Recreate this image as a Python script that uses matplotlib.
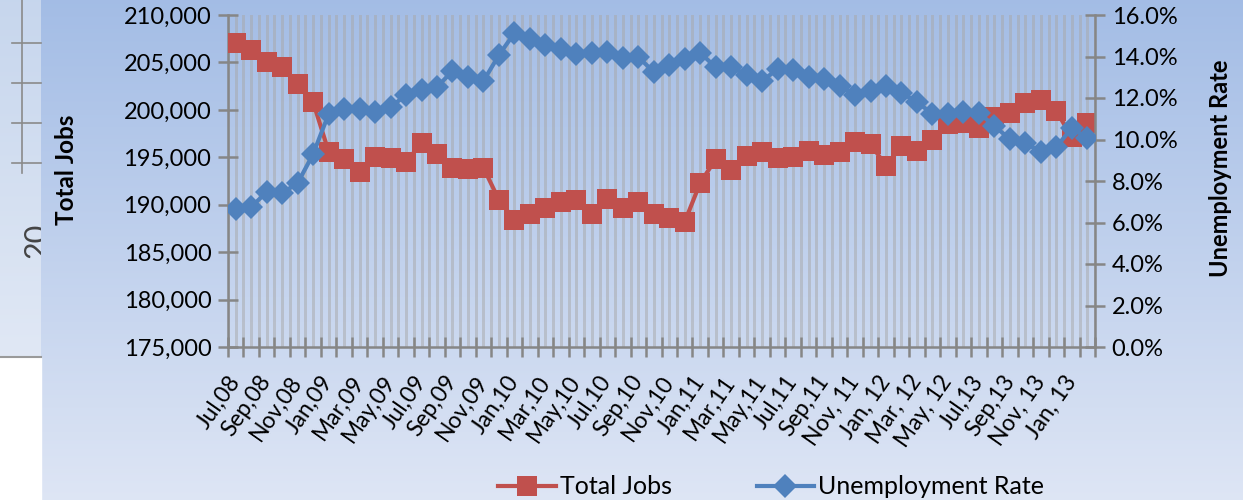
import numpy as np
import matplotlib
matplotlib.use("Agg")
import matplotlib.pyplot as plt
from matplotlib.ticker import FuncFormatter, PercentFormatter
from matplotlib.patches import Rectangle

plt.rcParams['font.family'] = ['Lato', 'DejaVu Sans']

# Month labels (one shown every second month, as in the source sheet)
tick_labels = ["Jul,08", "Sep,08", "Nov,08", "Jan,09", "Mar,09", "May,09", "Jul,09",
               "Sep,09", "Nov,09", "Jan,10", "Mar,10", "May,10", "Jul,10", "Sep,10",
               "Nov,10", "Jan,11", "Mar,11", "May,11", "Jul,11", "Sep,11", "Nov, 11",
               "Jan, 12", "Mar, 12", "May, 12", "Jul,13", "Sep,13", "Nov, 13", "Jan, 13"]

# Total jobs, monthly
total_jobs = [207100, 206300, 205000, 204500, 202700, 200800, 195600, 194800, 193400, 195000,
              194900, 194500, 196500, 195300, 193900, 193800, 193900, 190500, 188400, 189000,
              189650, 190300, 190500, 189000, 190600, 189650, 190300, 189000, 188600, 188200,
              192300, 194800, 193650, 195100, 195600, 194900, 195000, 195650, 195250, 195550,
              196600, 196400, 194100, 196200, 195650, 196800, 198500, 198600, 198100, 199250,
              199700, 200700, 201000, 199900, 197100, 198600]

# Unemployment rate (%), monthly
unemployment = [6.65, 6.75, 7.47, 7.42, 7.90, 9.30, 11.23, 11.47, 11.47, 11.33,
                11.57, 12.14, 12.39, 12.53, 13.30, 13.01, 12.82, 14.07, 15.13, 14.84,
                14.55, 14.36, 14.12, 14.17, 14.22, 13.93, 13.98, 13.25, 13.59, 13.88,
                14.17, 13.49, 13.49, 13.11, 12.82, 13.40, 13.35, 13.01, 12.92, 12.58,
                12.14, 12.34, 12.58, 12.24, 11.81, 11.23, 11.23, 11.33, 11.28, 10.65,
                10.02, 9.83, 9.40, 9.64, 10.55, 10.07]

red = '#c0504d'
blue = '#4f81bd'
axis_grey = '#868686'

fig = plt.figure(figsize=(12.43, 5.0), dpi=100)

# background: screenshot-style gradient panels
bg = fig.add_axes([0, 0, 1, 1])
bg.axis('off')
grad = np.linspace(0, 1, 256).reshape(-1, 1)
top_c = np.array([0.64, 0.74, 0.90])
bot_c = np.array([0.87, 0.90, 0.96])
main_img = top_c + (bot_c - top_c) * grad[..., None]
bg.imshow(main_img, extent=[41, 1243, 500, 0], aspect='auto', zorder=0)
strip_top = np.array([0.78, 0.84, 0.93])
strip_bot = np.array([0.88, 0.91, 0.96])
strip_img = strip_top + (strip_bot - strip_top) * grad[..., None]
bg.imshow(strip_img, extent=[0, 41, 357, 0], aspect='auto', zorder=0)
bg.add_patch(Rectangle((0, 357), 41, 143, color='white', zorder=1))
bg.plot([0, 41], [357, 357], color='#9a9a9a', lw=1.5, zorder=2)
bg.plot([22, 22], [0, 173], color='#8a8a8a', lw=1.2, zorder=2)
for yy in [43, 83, 123, 163]:
    bg.plot([12, 41], [yy, yy], color='#8a8a8a', lw=1.2, zorder=2)
bg.set_xlim(0, 1243)
bg.set_ylim(500, 0)
t = bg.text(37, 240, "20", rotation=90, fontsize=22, color='#444444',
            ha='center', va='center', zorder=2, clip_on=True)
t.set_clip_path(Rectangle((0, 0), 41, 357, transform=bg.transData))

# main chart
ax = fig.add_axes([228 / 1243, 1 - 347 / 500, (1095 - 228) / 1243, (347 - 15) / 500])
ax.patch.set_alpha(0)
ax2 = ax.twinx()

x = np.arange(len(total_jobs))
for g in np.arange(-0.5, len(x), 0.5):
    ax.axvline(g, color='#a8a8a8', alpha=0.5, lw=1.0, antialiased=False, zorder=0)

l1, = ax.plot(x, total_jobs, color=red, lw=3, marker='s', markersize=14.5,
              markeredgewidth=0, label='Total Jobs', zorder=3)
l2, = ax2.plot(x, unemployment, color=blue, lw=3, marker='D', markersize=12,
               markeredgewidth=0, label='Unemployment Rate', zorder=3)

ax.set_xlim(-0.5, len(x) - 0.5)
ax.set_ylim(175000, 210000)
ax2.set_ylim(0, 16)
ax.set_yticks(np.arange(175000, 210001, 5000))
ax2.set_yticks(np.arange(0, 16.1, 2))
ax.yaxis.set_major_formatter(FuncFormatter(lambda v, p: f"{int(v):,}"))
ax2.yaxis.set_major_formatter(PercentFormatter(decimals=1))

ax.xaxis.remove_overlapping_locs = False
ax.set_xticks(np.arange(-0.5, len(x), 1), minor=False)
ax.set_xticklabels([])
ax.set_xticks(np.arange(0, len(x), 2), minor=True)
ax.set_xticklabels(tick_labels, minor=True, rotation=55, ha='right', va='center',
                   rotation_mode='anchor', fontsize=16.5)
ax.tick_params(axis='x', which='major', direction='inout', length=14, width=1.8,
               color=axis_grey)
ax.tick_params(axis='x', which='minor', length=0, pad=22)
ax.tick_params(axis='y', direction='inout', length=14, width=1.8, color=axis_grey,
               labelsize=17, pad=5)
ax2.tick_params(axis='y', direction='inout', length=14, width=1.8, color=axis_grey,
                labelsize=17, pad=5)

for a in (ax, ax2):
    for s in a.spines.values():
        s.set_visible(False)
ax.spines['left'].set_visible(True)
ax.spines['bottom'].set_visible(True)
ax2.spines['right'].set_visible(True)
for s in (ax.spines['left'], ax.spines['bottom'], ax2.spines['right']):
    s.set_color(axis_grey)
    s.set_linewidth(1.8)

fig.text(67 / 1243, 1 - 170 / 500, "Total Jobs", rotation=90, fontsize=17.5,
         fontweight='bold', ha='center', va='center')
fig.text(1220 / 1243, 1 - 168 / 500, "Unemployment Rate", rotation=90, fontsize=17,
         fontweight='bold', ha='center', va='center')

fig.legend([l1, l2], ['Total Jobs', 'Unemployment Rate'], loc='center',
           bbox_to_anchor=(771 / 1243, 1 - 487 / 500), ncol=2, frameon=False,
           fontsize=18, handlelength=2.3, columnspacing=3.4, handletextpad=0.15)

fig.savefig('out.png', dpi=100)
